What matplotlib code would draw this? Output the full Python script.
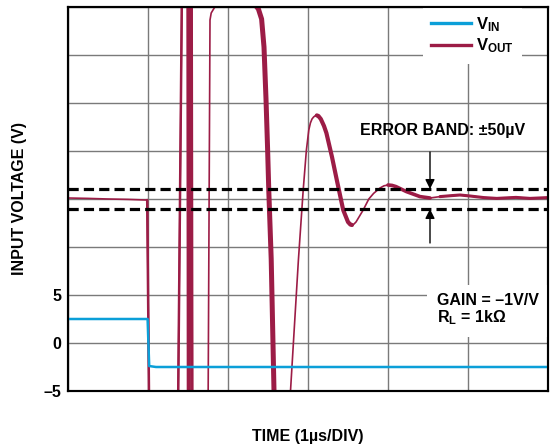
import numpy as np
import matplotlib
matplotlib.use('Agg')
import matplotlib.pyplot as plt

plt.rcParams['font.family'] = ['Liberation Sans', 'DejaVu Sans']
plt.rcParams['font.weight'] = 'bold'
plt.rcParams['axes.labelweight'] = 'bold'
plt.rcParams['mathtext.fontset'] = 'custom'
plt.rcParams['mathtext.rm'] = 'Liberation Sans:bold'
plt.rcParams['mathtext.bf'] = 'Liberation Sans:bold'
plt.rcParams['mathtext.default'] = 'bf'

# Input step (V), time in us
t_in = [0.0, 0.995, 1.005, 1.015, 1.10, 6.0]
v_in = [2.5, 2.5, 0.0, -2.4, -2.5, -2.5]

# Output settling trace (uV relative to final value)
t_out = [0.00, 0.25, 0.50, 0.75, 0.97, 0.99, 1.02, 1.37, 1.43, 1.495, 1.50, 1.52,
         1.525, 1.545, 1.555, 1.748, 1.775, 1.79, 1.82, 1.86, 1.90, 2.30, 2.33,
         2.38, 2.42, 2.45, 2.475, 2.495, 2.51, 2.54, 2.575, 2.59, 2.73, 2.88,
         2.94, 2.98, 3.01, 3.03, 3.05, 3.07, 3.09, 3.11, 3.13, 3.16, 3.20, 3.23,
         3.30, 3.36, 3.44, 3.50, 3.53, 3.55, 3.57, 3.60, 3.69, 3.76, 3.82, 3.90,
         3.95, 4.00, 4.05, 4.10, 4.23, 4.40, 4.525, 4.65, 4.80, 4.90, 5.025, 5.20,
         5.36, 5.50, 5.60, 5.775, 6.00]
v_out = [5, 3, 0, -2, -5, -5, -1300, -1300, 1300, 1300, -1300, -1300,
         1300, 1300, -1300, -1300, 895, 930, 950, 975, 1300, 1300, 975,
         950, 900, 760, 500, 250, 40, -300, -960, -1300, -1300, -305,
         45, 245, 345, 380, 400, 410, 416, 418, 415, 400, 365, 330,
         210, 95, -55, -115, -128, -130, -127, -115, -55, 0, 28, 55,
         66, 70, 68, 62, 37, 12, 5, 12, 17, 20, 15, 7,
         3, 6, 8, 3, 7]

error_band = 50  # uV

vin_color = '#0b9fd8'
vout_color = '#9c1c46'

fig = plt.figure(figsize=(5.54, 4.48), dpi=100)
ax = fig.add_axes([68 / 554, 57 / 448, 480 / 554, 384 / 448])

ax.set_xlim(0, 6)
ax.set_ylim(-960, 960)
ax.set_xticks(np.arange(0, 7))
ax.set_yticks(np.arange(-960, 961, 240))
ax.grid(True, color='#7a7a7a', lw=1.0)
ax.set_axisbelow(True)

t = np.array(t_out)
v = np.array(v_out)
ax.plot(t, v, color=vout_color, lw=1.2, solid_joinstyle='round', zorder=3)
# the scope trace looks thicker where it is noisy
for t0, t1, w in [(0.99, 1.6, 1.8), (2.33, 2.59, 3.6), (3.11, 3.55, 3.0), (4.0, 4.6, 2.6), (4.6, 6.0, 2.2)]:
    m = (t >= t0) & (t <= t1)
    ax.plot(t[m], v[m], color=vout_color, lw=w, solid_joinstyle='round',
            solid_capstyle='round', zorder=3)
vout_handle, = ax.plot([], [], color=vout_color, lw=2.4)

for y in (error_band, -error_band):
    ax.axhline(y, color='black', lw=2.3, dashes=(3.2, 1.6), zorder=5)

ax.text(3.65, 345, 'ERROR BAND: ±50µV', ha='left', va='center', fontsize=11.5)
arrow = dict(arrowstyle='-|>', color='black', lw=1.0, mutation_scale=14, shrinkA=0, shrinkB=0)
ax.annotate('', xy=(4.525, error_band), xytext=(4.525, 235), arrowprops=arrow, zorder=6)
ax.annotate('', xy=(4.525, -error_band), xytext=(4.525, -220), arrowprops=arrow, zorder=6)

ax2 = ax.twinx()
ax2.set_ylim(-5, 35)
ax2.yaxis.tick_left()
ax2.yaxis.set_label_position('left')
ax2.set_yticks(np.arange(-5, 36, 5))
ax2.set_yticklabels(['–5', '0', '5'] + [''] * 6)
ax2.tick_params(length=0, pad=5, labelsize=11.5)
ax.tick_params(length=0, labelbottom=False, labelleft=False, labelright=False)

vin_handle, = ax2.plot(t_in, v_in, color=vin_color, lw=1.8, zorder=4)

ax2.set_ylabel('INPUT VOLTAGE (V)', fontsize=11.5, fontweight='bold')
ax2.yaxis.set_label_coords(-0.085, 0.5)
ax.set_xlabel('TIME (1µs/DIV)', fontsize=11.5, fontweight='bold')
ax.xaxis.set_label_coords(0.5, -0.099)

ax2.text(4.61, 3.44, 'GAIN = –1V/V\nR$_L$ = 1kΩ', ha='left', va='center', fontsize=11.5,
         linespacing=1.05, bbox=dict(boxstyle='square,pad=0.6', fc='white', ec='none'))

leg_vin, = ax2.plot([], [], color=vin_color, lw=2.4)
ax2.legend([leg_vin, vout_handle], ['V$_{IN}$', 'V$_{OUT}$'], loc='upper left',
           bbox_to_anchor=((423 - 68) / 480, 1.0), frameon=True, fancybox=False,
           edgecolor='none', facecolor='white', framealpha=1, borderaxespad=0,
           borderpad=0.5, handlelength=2.4, handletextpad=0.3, labelspacing=0.15,
           fontsize=12)

for a in (ax, ax2):
    for s in a.spines.values():
        s.set_linewidth(1.5)
        s.set_zorder(10)

fig.savefig('out.png', dpi=100)
